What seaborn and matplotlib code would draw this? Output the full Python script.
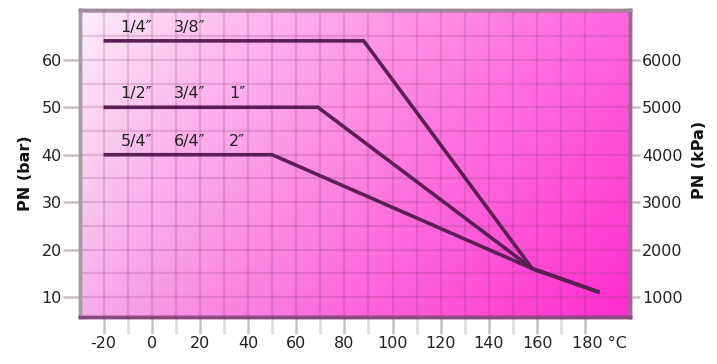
import numpy as np
import pandas as pd
import matplotlib
matplotlib.use("Agg")
import matplotlib.pyplot as plt
import matplotlib.transforms as mtransforms
from matplotlib.colors import to_rgb
import seaborn as sns

# ---- data ----
temps_small = [-20, 88, 158, 186]      # 1/4" 3/8"
pn_small = [64, 64, 16, 11]
temps_mid = [-20, 69, 158, 186]        # 1/2" 3/4" 1"
pn_mid = [50, 50, 16, 11]
temps_large = [-20, 50, 158, 186]      # 5/4" 6/4" 2"
pn_large = [40, 40, 16, 11]
labels_small = ["1/4″", "3/8″"]
labels_mid = ["1/2″", "3/4″", "1″"]
labels_large = ["5/4″", "6/4″", "2″"]
label_x = [-13, 9, 32]
x_ticks = [-20, 0, 20, 40, 60, 80, 100, 120, 140, 160, 180]
x_ticklabels = ["-20", "0", "20", "40", "60", "80", "100", "120", "140", "160", "180 °C"]
y_ticks = [10, 20, 30, 40, 50, 60]
kpa_ticks = [1000, 2000, 3000, 4000, 5000, 6000]

sns.set_style("white")
plt.rcParams['font.family'] = ['DejaVu Sans']

W, H = 717, 364
fig = plt.figure(figsize=(W / 100, H / 100), dpi=100)
L, R, T, B = 80, 630, 10, 317
ax = fig.add_axes([L / W, 1 - B / H, (R - L) / W, (B - T) / H])

xlim = (-29.8, 198.6)
ylim = (5.8, 70.5)

# background gradient
ny, nx = 200, 300
tl, tr = np.array(to_rgb("#fdf1fa")), np.array(to_rgb("#ff66de"))
bl, br = np.array(to_rgb("#f6b2ea")), np.array(to_rgb("#ff2ccf"))
u = np.linspace(0, 1, nx)[None, :, None]
v = np.linspace(0, 1, ny)[:, None, None]
u2 = u ** 0.8
img = (1 - v) * ((1 - u2) * tl + u2 * tr) + v * ((1 - u2) * bl + u2 * br)
ax.imshow(img, extent=[0, 1, 0, 1], transform=ax.transAxes, aspect='auto',
          zorder=0, interpolation='bilinear')

# grid
for gx in range(-20, 190, 10):
    ax.axvline(gx, color="#8a3a7a", alpha=0.2, lw=1.6, zorder=1)
for gy in range(10, 71, 5):
    ax.axhline(gy, color="#8a3a7a", alpha=0.2, lw=1.6, zorder=1)

line_color = "#5c1f55"
for tt, pp in [(temps_small, pn_small), (temps_mid, pn_mid), (temps_large, pn_large)]:
    df = pd.DataFrame({"T": tt, "P": pp})
    sns.lineplot(data=df, x="T", y="P", ax=ax, color=line_color, lw=2.6,
                 sort=False, zorder=3, solid_capstyle='butt')

FS = 11.5
for labs, base in [(labels_small, 64), (labels_mid, 50), (labels_large, 40)]:
    for lab, lx in zip(labs, label_x):
        ax.text(lx, base + 1.3, lab, fontsize=FS, color="#222222",
                ha='left', va='bottom', zorder=4)

ax.set_xlim(*xlim)
ax.set_ylim(*ylim)
ax.set_xticks(x_ticks)
ax.set_xticklabels(x_ticklabels)
ax.set_xticks(list(range(-10, 180, 20)), minor=True)
ax.set_yticks(y_ticks)
ax.set_xlabel("")
ax.set_ylabel("PN (bar)", fontsize=11.5, fontweight='bold', color="#111111")
ax.yaxis.set_label_coords(-(80 - 33) / (R - L), (B - 173) / (B - T))

ax.tick_params(axis='x', which='major', length=12, width=1.8, color="#c8c0c4",
               pad=1.5, labelsize=FS, labelcolor="#222222", bottom=True)
ax.tick_params(axis='x', which='minor', length=12, width=1.8, color="#e0dadd", bottom=True)
ax.tick_params(axis='y', length=12, width=1.8, color="#c8c0c4", pad=1,
               labelsize=FS, labelcolor="#222222", left=True)

# shift last label
lbl = ax.get_xticklabels()[-1]
lbl.set_horizontalalignment('left')
lbl.set_transform(lbl.get_transform() + mtransforms.ScaledTranslation(-13 / 100, 0, fig.dpi_scale_trans))

ax2 = ax.twinx()
ax2.set_ylim(ylim[0] * 100, ylim[1] * 100)
ax2.set_yticks(kpa_ticks)
ax2.set_ylabel("PN (kPa)", fontsize=11.5, fontweight='bold', color="#111111")
ax2.yaxis.set_label_coords(1 + (692 - R) / (R - L), (B - 160) / (B - T))
ax2.tick_params(axis='y', length=7, width=1.8, color="#c8c0c4", pad=1.5,
                labelsize=FS, labelcolor="#222222", right=True)

for a in (ax, ax2):
    a.spines['left'].set_color("#a89ca4")
    a.spines['left'].set_linewidth(2.5)
    a.spines['bottom'].set_color("#8a4a80")
    a.spines['bottom'].set_linewidth(2.5)
    a.spines['right'].set_color("#9a6a92")
    a.spines['right'].set_linewidth(2.5)
    a.spines['top'].set_color("#a08898")
    a.spines['top'].set_linewidth(2.5)

fig.savefig("out.png", dpi=100, facecolor="white")
